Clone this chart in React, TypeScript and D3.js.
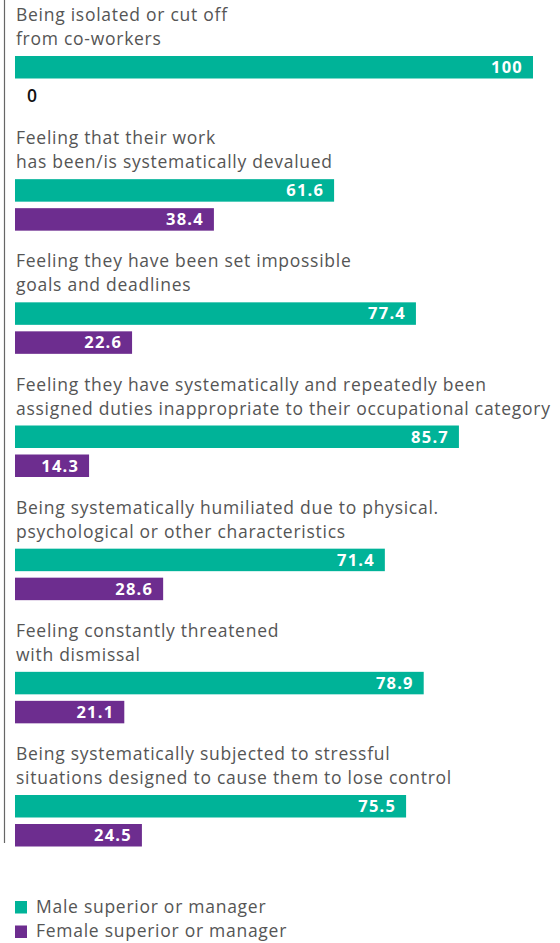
import React from "react";
import * as d3 from "d3";

const categories: string[][] = [
  ["Being isolated or cut off", "from co-workers"],
  ["Feeling that their work", "has been/is systematically devalued"],
  ["Feeling they have been set impossible", "goals and deadlines"],
  ["Feeling they have systematically and repeatedly been", "assigned duties inappropriate to their occupational category"],
  ["Being systematically humiliated due to physical.", "psychological or other characteristics"],
  ["Feeling constantly threatened", "with dismissal"],
  ["Being systematically subjected to stressful", "situations designed to cause them to lose control"],
];
const maleValues = [100, 61.6, 77.4, 85.7, 71.4, 78.9, 75.5];
const femaleValues = [0, 38.4, 22.6, 14.3, 28.6, 21.1, 24.5];
const seriesNames = ["Male superior or manager", "Female superior or manager"];

const GREEN = "#00b398";
const PURPLE = "#6d2d8f";
const TEXT = "#555555";
const FONT = "'Open Sans', sans-serif";

export default function App() {
  const x = d3.scaleLinear().domain([0, 100]).range([15, 533]);
  const yGroup = d3.scaleLinear().domain([0, categories.length - 1]).range([56, 795]);
  const barH = 22.5;
  const gap = 29;
  const series = [maleValues, femaleValues];
  const colors = [GREEN, PURPLE];

  return (
    <svg width={560} height={943} style={{ position: "absolute", left: 0, top: 0 }}>
      <line x1={4.5} x2={4.5} y1={0} y2={843} stroke="#666" strokeWidth={1.2} />
      {categories.map((lines, i) => {
        const y0 = yGroup(i);
        return (
          <g key={i}>
            {lines.map((t, j) => (
              <text key={j} x={16} y={y0 - 35 + j * 24} fontFamily={FONT} fontWeight={400} fontSize={17.5} fill={TEXT} letterSpacing={0.73}>
                {t}
              </text>
            ))}
            {series.map((vals, s) => {
              const v = vals[i];
              const by = y0 + s * gap;
              return (
                <g key={s}>
                  <rect x={x(0)} y={by} width={x(v) - x(0)} height={barH} fill={colors[s]} />
                  {v > 0 ? (
                    <text x={x(v) - 10} y={by + barH / 2 + 5.8} textAnchor="end" fontFamily={FONT} fontWeight={700} fontSize={16.5} fill="#fff" letterSpacing={1.2}>
                      {d3.format(".1~f")(v)}
                    </text>
                  ) : (
                    <text x={x(0) + 12} y={by + barH / 2 + 6} fontFamily={FONT} fontWeight={600} fontSize={17.5} fill="#111">
                      {v}
                    </text>
                  )}
                </g>
              );
            })}
          </g>
        );
      })}
      {seriesNames.map((n, k) => (
        <g key={n}>
          <rect x={15} y={901 + k * 24.5} width={12} height={12.5} fill={colors[k]} />
          <text x={36} y={912.5 + k * 24.5} fontFamily={FONT} fontWeight={400} fontSize={17.5} fill={TEXT} letterSpacing={0.73}>
            {n}
          </text>
        </g>
      ))}
    </svg>
  );
}
